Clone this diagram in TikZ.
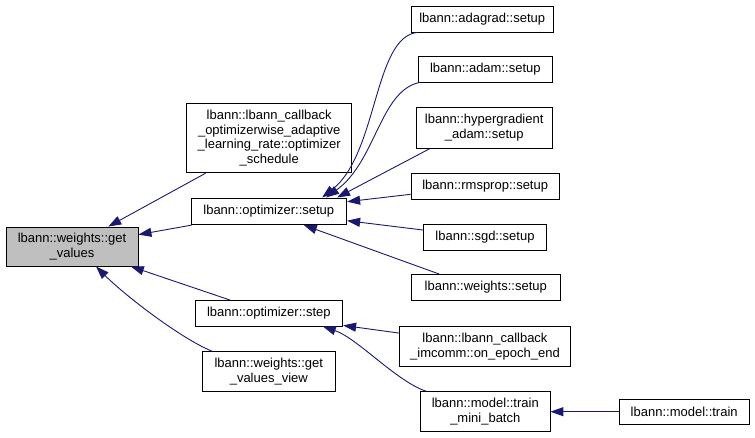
\documentclass[tikz,border=0pt]{standalone}
\usepackage{fontspec}
\setmainfont{Liberation Sans}
\usetikzlibrary{arrows.meta}
\definecolor{edgeblue}{RGB}{25,25,112}
\definecolor{curgray}{RGB}{191,191,191}

\begin{document}
\begin{tikzpicture}[x=1pt, y=1pt, >={Triangle[length=13pt, width=9pt]},
        fn/.style={draw=black, line width=0.9pt, fill=white, align=center,
            inner xsep=1pt, inner ysep=0pt, minimum height=25.5pt,
            font=\fontsize{13}{14.5}\selectfont},
        call/.style={->, draw=edgeblue, line width=0.9pt}]
    \useasboundingbox (0,0) rectangle (755,-437);

    % the function itself
    \node[fn, fill=curgray, minimum width=132pt, minimum height=39pt] (getvalues)
        at (72,-246.5) {lbann::weights::get\\\_values};

    % direct callers
    \node[fn, minimum width=165pt, minimum height=69pt] (schedule) at (269.2,-138.3)
        {lbann::lbann\_callback\\\_optimizerwise\_adaptive\\\_learning\_rate::optimizer\\\_schedule};
    \node[fn, minimum width=155.7pt, minimum height=26.7pt] (setup) at (268.8,-211.3)
        {lbann::optimizer::setup};
    \node[fn, minimum width=147.7pt] (step) at (268.8,-313.2) {lbann::optimizer::step};
    \node[fn, minimum width=132.3pt, minimum height=40pt] (view) at (268.8,-371.7)
        {lbann::weights::get\\\_values\_view};

    % callers of optimizer::setup
    \node[fn, minimum width=142.3pt] (adagrad) at (482.2,-19.2) {lbann::adagrad::setup};
    \node[fn, minimum width=134pt] (adam) at (485.3,-69.2) {lbann::adam::setup};
    \node[fn, minimum width=136.3pt, minimum height=41pt] (hyper) at (484.2,-127.8)
        {lbann::hypergradient\\\_adam::setup};
    \node[fn, minimum width=148.3pt, minimum height=26pt] (rmsprop) at (485.2,-186.3)
        {lbann::rmsprop::setup};
    \node[fn, minimum width=123.3pt] (sgd) at (485,-237.2) {lbann::sgd::setup};
    \node[fn, minimum width=148.3pt, minimum height=26pt] (wsetup) at (485.8,-287.5)
        {lbann::weights::setup};

    % callers of optimizer::step
    \node[fn, minimum width=171.4pt, minimum height=40pt] (imcomm) at (485,-346.5)
        {lbann::lbann\_callback\\\_imcomm::on\_epoch\_end};
    \node[fn, minimum width=129.3pt, minimum height=40pt] (minibatch) at (485.3,-411.7)
        {lbann::model::train\\\_mini\_batch};
    \node[fn, minimum width=130.3pt, minimum height=24.7pt] (train) at (684.2,-411.7)
        {lbann::model::train};

    \draw[call] (schedule) -- (getvalues);
    \draw[call] (setup) -- (getvalues);
    \draw[call] (step) -- (getvalues);
    \draw[call] ([xshift=10pt]view.north west) .. controls +(-30,12) and +(30,-30)
        .. ([xshift=24pt]getvalues.south);

    \draw[call] ([xshift=7pt]adagrad.south west) .. controls +(-44,-4) and +(56,44)
        .. ([xshift=-25pt]setup.north east);
    \draw[call] ([xshift=2pt]adam.south west) .. controls +(-40,-8) and +(50,36)
        .. ([xshift=-21pt]setup.north east);
    \draw[call] ([xshift=14pt]hyper.south west) -- ([xshift=-10pt]setup.north east);
    \draw[call] ([yshift=-8pt]rmsprop.west) -- ([yshift=9.6pt]setup.east);
    \draw[call] ([yshift=7.2pt]sgd.west) -- ([yshift=-9.4pt]setup.east);
    \draw[call] ([xshift=28pt]wsetup.north west) -- ([xshift=35pt]setup.south);

    \draw[call] ([yshift=-7pt]imcomm.north west) -- ([yshift=1pt]step.south east);
    \draw[call] ([xshift=6pt]minibatch.north west) .. controls +(-30,10) and +(35,-12)
        .. ([xshift=54pt]step.south);
    \draw[call] (train) -- (minibatch);
\end{tikzpicture}
\end{document}
